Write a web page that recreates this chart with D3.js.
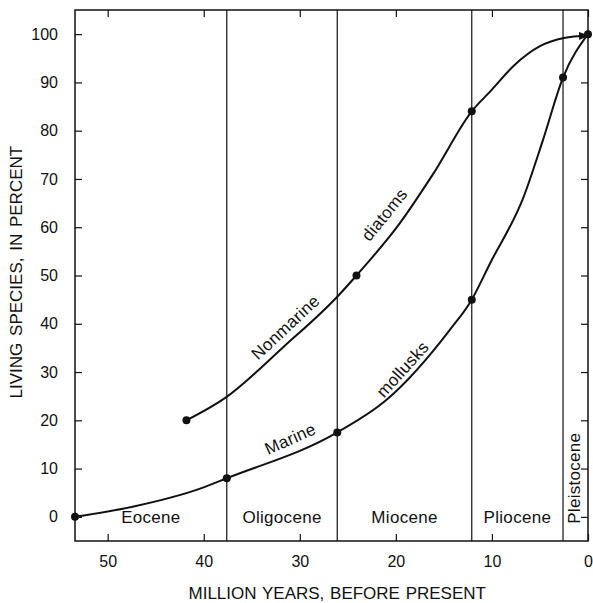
<!DOCTYPE html>
<html>
<head>
<meta charset="utf-8">
<script src="https://cdn.jsdelivr.net/npm/d3@7"></script>
<style>
  body { margin: 0; background: #fff; }
  text { font-family: "Liberation Sans", Arial, sans-serif; fill: #111; }
</style>
</head>
<body>
<script>
// data (age in million years, value in percent)
var epochs = ["Eocene", "Oligocene", "Miocene", "Pliocene", "Pleistocene"];
var epochBounds = [53.4, 37.6, 26.1, 12.1, 2.6, 0];

var marineAge = [53.4, 47.4, 40.3, 37.6, 26.1, 21, 14.4, 12.1, 10.2, 6.7, 4.7, 2.6, 0];
var marineVal = [0, 2.1, 5.9, 8, 17.5, 24.2, 38.7, 45, 52.5, 66.3, 78, 91, 100];
var marineDotAge = [53.4, 37.6, 26.1, 12.1, 2.6, 0];
var marineDotVal = [0, 8, 17.5, 45, 91, 100];

var nonmarineAge = [41.8, 37.8, 31.7, 26.1, 24.1, 19.6, 16.1, 12.1, 10, 7.7, 5, 2.5, 0];
var nonmarineVal = [20, 24.6, 35.2, 45.6, 50, 60.8, 71.1, 84, 88.5, 93.5, 97.5, 99.2, 99.7];
var nonmarineDotAge = [41.8, 24.1, 12.1];
var nonmarineDotVal = [20, 50, 84];

var xTicks = [50, 40, 30, 20, 10, 0];
var yTicks = [0, 10, 20, 30, 40, 50, 60, 70, 80, 90, 100];

var margin = { top: 10, right: 5, bottom: 62, left: 75 };
var W = 593, H = 603;
var width = W - margin.left - margin.right;
var height = H - margin.top - margin.bottom;

var x = d3.scaleLinear().domain([53.4, 0]).range([0, width]);
var y = d3.scaleLinear().domain([-5, 105]).range([height, 0]);

var svg = d3.select("body").append("svg")
  .attr("width", W).attr("height", H)
  .append("g")
  .attr("transform", "translate(" + margin.left + "," + margin.top + ")");

// frame
svg.append("rect")
  .attr("width", width).attr("height", height)
  .attr("fill", "none").attr("stroke", "#111").attr("stroke-width", 1.5);

// axes with inward ticks
var numSize = 16, wordSize = 17;
var xAxis = svg.append("g").attr("transform", "translate(0," + height + ")")
  .call(d3.axisBottom(x).tickValues(xTicks).tickSizeInner(-7).tickSizeOuter(0).tickPadding(15));
var xTop = svg.append("g")
  .call(d3.axisTop(x).tickValues(xTicks).tickSizeInner(-7).tickSizeOuter(0).tickFormat(""));
var yAxis = svg.append("g")
  .call(d3.axisLeft(y).tickValues(yTicks).tickSizeInner(-7).tickSizeOuter(0).tickPadding(17));
var yRight = svg.append("g").attr("transform", "translate(" + width + ",0)")
  .call(d3.axisRight(y).tickValues(yTicks).tickSizeInner(-7).tickSizeOuter(0).tickFormat(""));

[xAxis, xTop, yAxis, yRight].forEach(function(a) {
  a.select(".domain").remove();
  a.selectAll("line").attr("stroke", "#111").attr("stroke-width", 1.2);
  a.selectAll("text").attr("font-size", numSize).attr("font-family", null).style("fill", "#111");
});

// epoch boundary lines
svg.selectAll(".bound")
  .data(epochBounds.slice(1, 5))
  .enter().append("line")
  .attr("x1", function(d) { return x(d); }).attr("x2", function(d) { return x(d); })
  .attr("y1", 0).attr("y2", height)
  .attr("stroke", "#111").attr("stroke-width", 1.2);

// epoch labels
svg.selectAll(".epoch")
  .data(epochs)
  .enter().append("text")
  .attr("font-size", wordSize)
  .attr("text-anchor", "middle")
  .attr("dy", "0.35em")
  .attr("letter-spacing", 0.3)
  .attr("transform", function(d, i) {
    var cx = (x(epochBounds[i]) + x(epochBounds[i + 1])) / 2;
    if (d == "Pleistocene") return "translate(" + (cx - 1) + "," + y(8) + ") rotate(-90)";
    return "translate(" + cx + "," + y(0) + ")";
  })
  .text(function(d) { return d; });

// curves
var line = d3.line()
  .x(function(d) { return x(d[0]); })
  .y(function(d) { return y(d[1]); })
  .curve(d3.curveMonotoneX);

svg.append("defs").append("marker")
  .attr("id", "arrow").attr("viewBox", "0 0 10 10")
  .attr("refX", 9).attr("refY", 5)
  .attr("markerWidth", 5).attr("markerHeight", 5)
  .attr("orient", "auto")
  .append("path").attr("d", "M0,1 L10,5 L0,9 z").attr("fill", "#111");

svg.append("path")
  .datum(d3.zip(marineAge, marineVal))
  .attr("d", line).attr("fill", "none").attr("stroke", "#111").attr("stroke-width", 2);
svg.append("path")
  .datum(d3.zip(nonmarineAge, nonmarineVal))
  .attr("d", line).attr("fill", "none").attr("stroke", "#111").attr("stroke-width", 2)
  .attr("marker-end", "url(#arrow)");

svg.selectAll(".mdot")
  .data(d3.zip(marineDotAge, marineDotVal))
  .enter().append("circle")
  .attr("cx", function(d) { return x(d[0]); })
  .attr("cy", function(d) { return y(d[1]); })
  .attr("r", 4).attr("fill", "#111");
svg.selectAll(".ndot")
  .data(d3.zip(nonmarineDotAge, nonmarineDotVal))
  .enter().append("circle")
  .attr("cx", function(d) { return x(d[0]); })
  .attr("cy", function(d) { return y(d[1]); })
  .attr("r", 4).attr("fill", "#111");

// curve labels (centre position in data units, rotation in degrees)
var curveLabels = [
  { t: "Nonmarine", a: 31.5, v: 39.3, r: -43 },
  { t: "diatoms", a: 21.2, v: 62.6, r: -51 },
  { t: "Marine", a: 31.0, v: 16.2, r: -24 },
  { t: "mollusks", a: 19.3, v: 30.6, r: -48 }
];
svg.selectAll(".clab")
  .data(curveLabels)
  .enter().append("text")
  .attr("font-size", wordSize)
  .attr("text-anchor", "middle")
  .attr("dy", "0.35em")
  .attr("letter-spacing", 0.3)
  .attr("transform", function(d) { return "translate(" + x(d.a) + "," + y(d.v) + ") rotate(" + d.r + ")"; })
  .text(function(d) { return d.t; });

// axis titles
svg.append("text")
  .attr("font-size", wordSize)
  .attr("text-anchor", "middle")
  .attr("x", x(26.1)).attr("y", height + 58)
  .attr("word-spacing", 1)
  .text("MILLION YEARS, BEFORE PRESENT");
svg.append("text")
  .attr("font-size", wordSize)
  .attr("text-anchor", "middle")
  .attr("transform", "translate(-53," + y(50.7) + ") rotate(-90)")
  .attr("word-spacing", 2)
  .text("LIVING SPECIES, IN PERCENT");
</script>
</body>
</html>
